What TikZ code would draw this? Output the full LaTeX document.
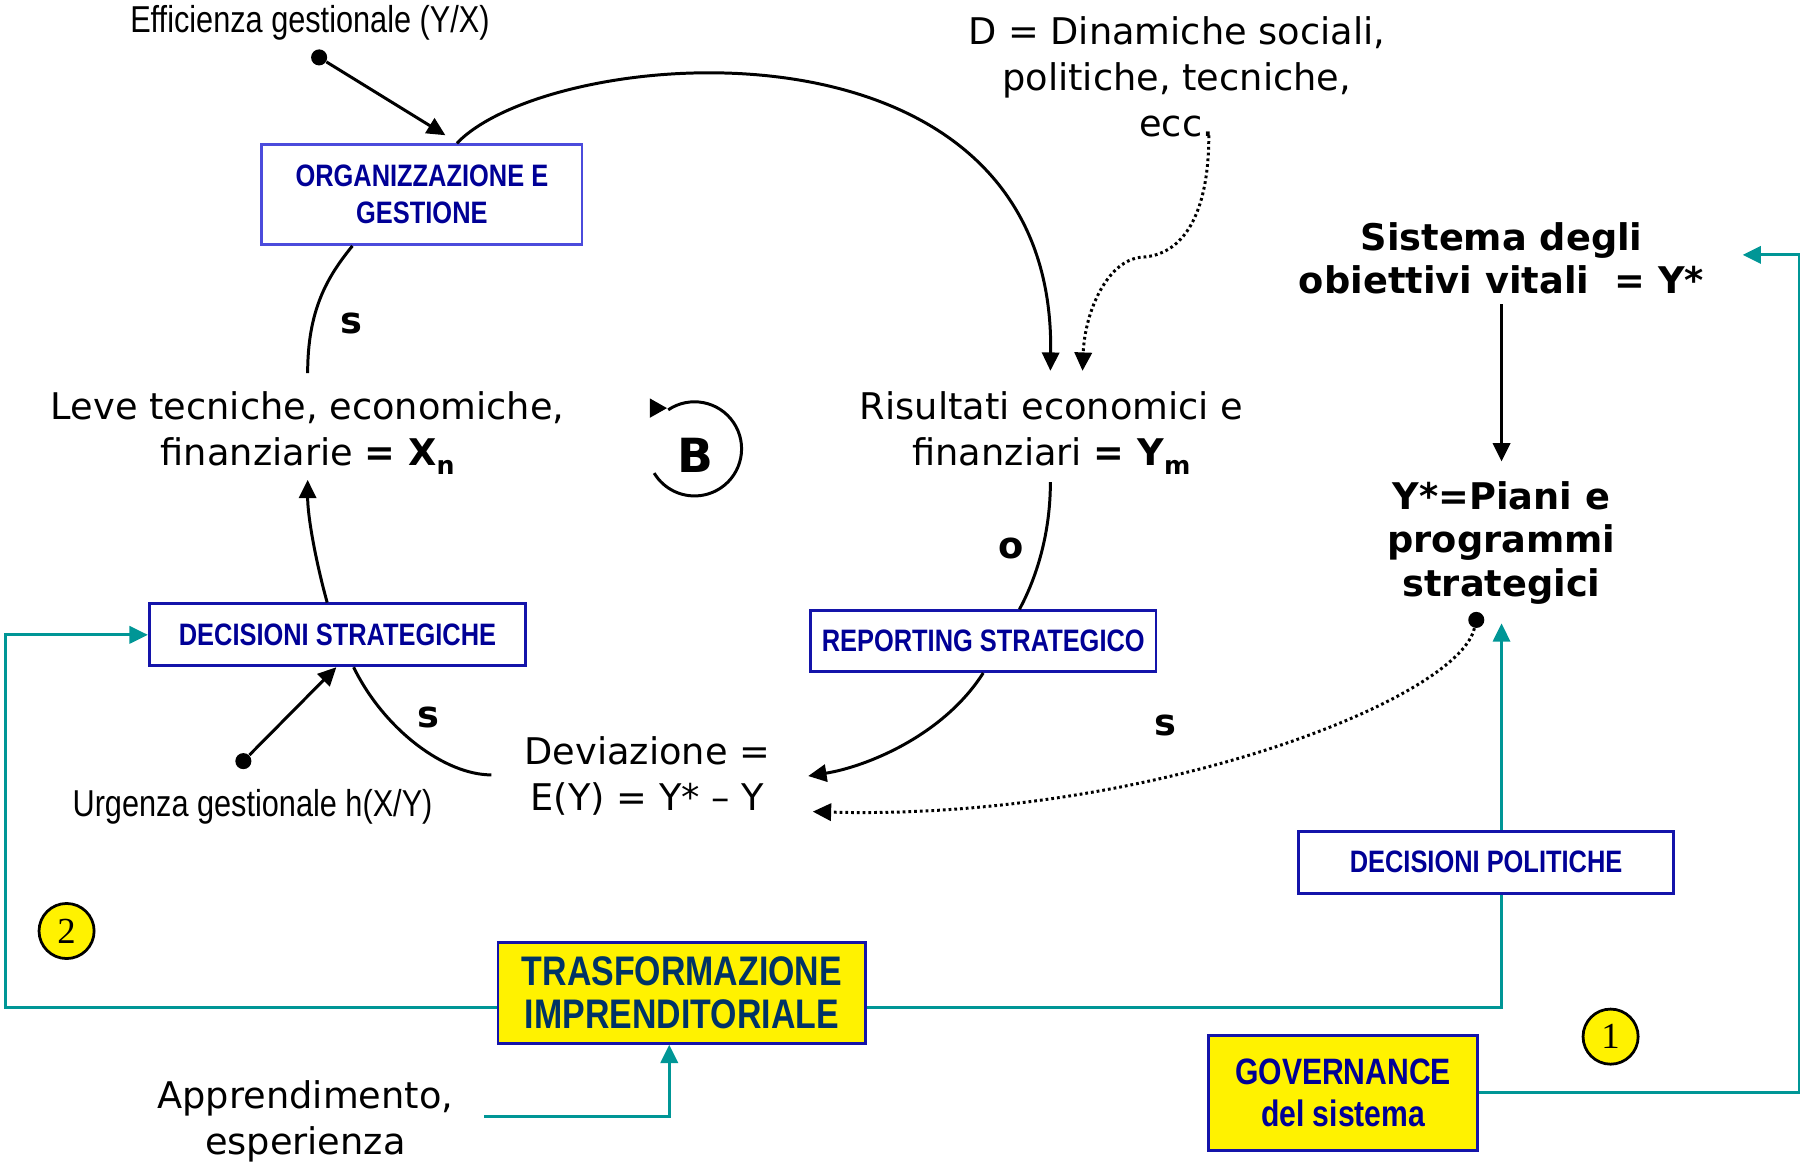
\documentclass[tikz,border=0pt]{standalone}
\usepackage{fontspec}
\setmainfont{DejaVu Sans}
\newfontfamily\narrowfont[FakeStretch=0.82]{Liberation Sans}
\newfontfamily\numfont{Liberation Serif}
\usetikzlibrary{arrows.meta,calc}

\definecolor{tealline}{RGB}{0,150,150}
\definecolor{navytext}{RGB}{0,0,150}
\definecolor{boxblue}{RGB}{20,20,170}
\definecolor{lightblue}{RGB}{75,75,220}
\definecolor{darknavy}{RGB}{0,51,102}

\tikzset{
  tip/.style={-{Triangle[length=8pt,width=7.5pt]}},
  conn/.style={line width=1.3pt, black},
  dots/.style={dash pattern=on 1.2pt off 1.3pt},
  tealconn/.style={line width=1.3pt, tealline},
  bluebox/.style={draw=boxblue, line width=1.2pt, fill=white, inner sep=0pt,
    font=\narrowfont\bfseries\fontsize{13.5}{16}\selectfont, text=navytext, align=center},
  yellowbox/.style={draw=boxblue, line width=1pt, fill=yellow, inner sep=0pt, align=center},
  plaintext/.style={inner sep=0pt, align=center, font=\fontsize{16}{20}\selectfont},
  boldtext/.style={inner sep=0pt, align=center, font=\bfseries\fontsize{16}{18.75}\selectfont},
  narrowtext/.style={inner sep=0pt, font=\narrowfont\fontsize{16.3}{18}\selectfont},
  blackdot/.style={circle, fill=black, inner sep=0pt, minimum size=7pt},
  numdisc/.style={circle, draw=black, line width=1.2pt, fill=yellow, minimum size=24pt,
    inner sep=0pt, font=\numfont\fontsize{16}{16}\selectfont},
  signlabel/.style={inner sep=0pt, font=\bfseries\fontsize{16}{16}\selectfont}
}

\newcommand{\subbold}[1]{\raisebox{-4pt}{\fontsize{11}{11}\selectfont\bfseries #1}}

\begin{document}
\begin{tikzpicture}[x=0.5pt,y=-0.5pt]
\useasboundingbox (0,0) rectangle (1568,1014);

% ---------- texts ----------
\node[narrowtext] (eff) at (270,20) {Efficienza gestionale (Y/X)};
\node[blackdot] (effdot) at (278,50) {};
\node[plaintext] (din) at (1025,67) {D = Dinamiche sociali,\\politiche, tecniche,\\ecc.};
\node[plaintext] (leve) at (268,377) {Leve tecniche, economiche,\\finanziarie \textbf{= X}\subbold{n}};
\node[plaintext] (ris) at (916,377) {Risultati economici e\\finanziari \textbf{= Y}\subbold{m}};
\node[boldtext] (sist) at (1308,225) {Sistema degli\\obiettivi vitali\ \ = Y*};
\node[boldtext, font=\bfseries\fontsize{16}{19}\selectfont] (piani) at (1308,473) {Y*=Piani e\\programmi\\strategici};
\node[blackdot] (pdot) at (1286,540) {};
\node[plaintext] (dev) at (564,676) {Deviazione =\\E(Y) = Y* – Y};
\node[blackdot] (urgdot) at (212,663) {};
\node[narrowtext] (urg) at (220,703) {Urgenza gestionale h(X/Y)};
\node[plaintext] (app) at (266,977) {Apprendimento,\\esperienza};

% ---------- boxes ----------
\node[bluebox, draw=lightblue, minimum width=139.5pt, minimum height=43.5pt] (org) at (367.5,169.5) {ORGANIZZAZIONE E\\GESTIONE};
\node[bluebox, minimum width=164pt, minimum height=27pt] (dstrat) at (294,553) {DECISIONI STRATEGICHE};
\node[bluebox, minimum width=150.5pt, minimum height=26.5pt] (rep) at (856.5,558.5) {REPORTING STRATEGICO};
\node[bluebox, minimum width=163.5pt, minimum height=27pt] (dpol) at (1294.5,751) {DECISIONI POLITICHE};
\node[yellowbox, minimum width=160pt, minimum height=44pt, text=darknavy,
  font=\narrowfont\bfseries\fontsize{18}{18.5}\selectfont] (trasf) at (594,865) {TRASFORMAZIONE\\IMPRENDITORIALE};
\node[yellowbox, line width=1.2pt, minimum width=117pt, minimum height=50pt, text=navytext,
  font=\narrowfont\bfseries\fontsize{16}{18.5}\selectfont] (gov) at (1170,952) {GOVERNANCE\\del sistema};

\node[numdisc] (c1) at (1403,903) {1};
\node[numdisc] (c2) at (58,811) {2};

% ---------- polarity labels ----------
\node[signlabel] (s1) at (306,282) {s};
\node[signlabel] (s2) at (373,625) {s};
\node[signlabel] (o1) at (881,478) {o};
\node[signlabel] (s3) at (1015,632) {s};

% ---------- balancing loop symbol ----------
\node[inner sep=0pt, font=\bfseries\fontsize{20.5}{20.5}\selectfont] (bsym) at (606,397) {B};
\coordinate (loopc) at (605,391);
\begin{scope}[shift={(loopc)}, x=1pt, y=1pt]
  \draw[conn] (124:20.5) arc[start angle=124, end angle=-149, radius=20.5];
  \fill (-19.5,22) -- (-19.5,13.5) -- (-12,17.75) -- cycle;
\end{scope}

% ---------- causal connectors ----------
\draw[conn,tip] (effdot) -- ([xshift=10.25pt,yshift=3.5pt]org.north);
\draw[conn,tip] ([xshift=15.25pt]org.north) .. controls +(82,-86) and +(5,-323) .. ([xshift=-0.5pt,yshift=27pt]ris.center);
\coordinate (dbend) at (995,224);
\draw[conn,dots,tip] ([xshift=14pt,yshift=-25.5pt]din.center) .. controls +(0,70) and +(35,-2) .. (dbend)
  .. controls +(-30,2) and +(2,-52) .. ([xshift=13.5pt,yshift=27pt]ris.center);
\draw[conn] ([xshift=-0.5pt,yshift=-21.5pt]ris.center) .. controls +(0,50) and +(12,-22) .. ([xshift=15.75pt]rep.north);
\draw[conn,tip] (rep.south) .. controls +(-35,55) and +(50,-8) .. ([xshift=70pt]dev.center);
\draw[conn,dots,tip] (pdot) .. controls +(-16,70) and +(290,8) .. ([xshift=72pt,yshift=-15.5pt]dev.center);
\draw[conn,tip] ([yshift=-20pt]sist.center) -- ([yshift=35.5pt]piani.center);
\draw[conn] ([yshift=26pt]leve.center) .. controls +(0,-55) and +(-22,27) .. ([xshift=-30.25pt]org.south);
\draw[conn,tip] ([xshift=-4.5pt]dstrat.north) .. controls +(-10,-36) and +(0,32) .. ([yshift=-20.5pt]leve.center);
\draw[conn,tip] (urgdot) -- ([xshift=-0.5pt]dstrat.south);
\draw[conn] ([xshift=-68pt,yshift=0.5pt]dev.center) .. controls +(-40,0) and +(27,55) .. ([xshift=7pt]dstrat.south);

% ---------- governance connectors ----------
\draw[tealconn,tip] ([yshift=-6.5pt]trasf.west) -- ++(-428,0) |- (dstrat.west);
\draw[tealconn] ([yshift=-6.5pt]trasf.east) -| ([xshift=6.75pt]dpol.south);
\draw[tealconn,tip] ([xshift=6.75pt]dpol.north) -- ([yshift=-35pt]piani.center);
\draw[tealconn,tip] (gov.east) -- ++(279,0) |- ([xshift=105pt,yshift=1.5pt]sist.center);
\draw[tealconn,tip] ([xshift=78pt,yshift=2pt]app.center) -| ([xshift=-5.5pt]trasf.south);

\end{tikzpicture}
\end{document}
